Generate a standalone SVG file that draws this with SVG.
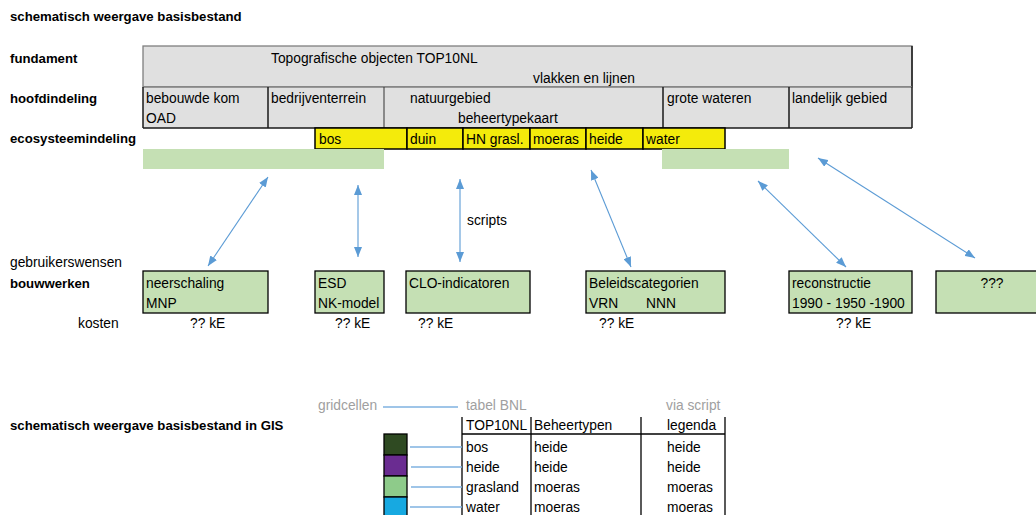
<svg xmlns="http://www.w3.org/2000/svg" width="1036" height="515" viewBox="0 0 1036 515">
<style>
text{font-family:"Liberation Sans",Arial,sans-serif;font-size:13.8px;fill:#000}
.b{font-weight:bold;font-size:13.2px}
.g{fill:#A0A0A0}
.gray{fill:#E0E0E0}
.yel{fill:#F4EB0B;stroke:#000;stroke-width:1.5}
.grn{fill:#C5E0B4}
.box{fill:#C5E0B4;stroke:#000;stroke-width:1.3}
.sep{stroke:#1a1a1a;stroke-width:1.5}
.arr{stroke:#5B9BD5;stroke-width:1.1;fill:none;marker-start:url(#ah);marker-end:url(#ah)}
.ln{stroke:#7FB2E0;stroke-width:1.3}
.tl{stroke:#000;stroke-width:1.3}
</style>
<defs>
<marker id="ah" viewBox="0 0 10 8" refX="10" refY="4" markerWidth="10" markerHeight="8" markerUnits="userSpaceOnUse" orient="auto-start-reverse">
<path d="M0,0 L10,4 L0,8 z" fill="#5B9BD5"/>
</marker>
</defs>
<rect width="1036" height="515" fill="#fff"/>

<g id="labels">
<text class="b" x="10" y="21">schematisch weergave basisbestand</text>
<text class="b" x="10" y="63">fundament</text>
<text class="b" x="10" y="103">hoofdindeling</text>
<text class="b" x="10" y="143">ecosysteemindeling</text>
<text x="10" y="267">gebruikerswensen</text>
<text class="b" x="10" y="288">bouwwerken</text>
<text x="78" y="328">kosten</text>
<text class="b" x="10" y="430">schematisch weergave basisbestand in GIS</text>
</g>

<g id="fundament">
<rect class="gray" x="143" y="46" width="769" height="41" stroke="#7F7F7F" stroke-width="1.3"/>
<line x1="912" y1="46" x2="912" y2="87" class="sep"/>
<text x="271" y="63">Topografische objecten TOP10NL</text>
<text x="533" y="83">vlakken en lijnen</text>
</g>

<g id="hoofdindeling">
<rect class="gray" x="143" y="87" width="769" height="41"/>
<line x1="143" y1="87" x2="912" y2="87" stroke="#7F7F7F" stroke-width="1.3"/>
<line x1="143" y1="87" x2="143" y2="128" class="sep"/>
<line x1="268" y1="87" x2="268" y2="128" class="sep"/>
<line x1="384" y1="87" x2="384" y2="129" stroke="#333" stroke-width="1"/>
<line x1="663" y1="87" x2="663" y2="128" class="sep"/>
<line x1="789" y1="87" x2="789" y2="128" class="sep"/>
<line x1="912" y1="87" x2="912" y2="128" class="sep"/>
<line x1="143" y1="128" x2="912" y2="128" class="sep"/>
<text x="146" y="103">bebouwde kom</text>
<text x="146" y="123">OAD</text>
<text x="271" y="103">bedrijventerrein</text>
<text x="410" y="103">natuurgebied</text>
<text x="458" y="123">beheertypekaart</text>
<text x="667" y="103">grote wateren</text>
<text x="792" y="103">landelijk gebied</text>
</g>

<g id="ecosysteem">
<rect class="yel" x="315" y="128" width="92" height="21"/>
<rect class="yel" x="407" y="128" width="56" height="21"/>
<rect class="yel" x="463" y="128" width="67" height="21"/>
<rect class="yel" x="530" y="128" width="56" height="21"/>
<rect class="yel" x="586" y="128" width="57" height="21"/>
<rect class="yel" x="643" y="128" width="82" height="21"/>
<text x="319" y="144">bos</text>
<text x="410" y="144">duin</text>
<text x="466" y="144">HN grasl.</text>
<text x="533" y="144">moeras</text>
<text x="589" y="144">heide</text>
<text x="646" y="144">water</text>
<rect class="grn" x="143" y="149" width="241" height="20"/>
<rect class="grn" x="662" y="149" width="127" height="20"/>
</g>

<g id="connectors">
<line class="arr" x1="268" y1="177" x2="208" y2="266"/>
<line class="arr" x1="358" y1="185" x2="358" y2="257"/>
<line class="arr" x1="460" y1="179" x2="460" y2="262"/>
<line class="arr" x1="591" y1="170" x2="631" y2="267"/>
<line class="arr" x1="758" y1="181" x2="846" y2="267"/>
<line class="arr" x1="818" y1="158" x2="975" y2="258"/>
<text x="467" y="225">scripts</text>
</g>

<g id="neerschaling">
<rect class="box" x="143" y="271" width="125" height="42"/>
<text x="146" y="288">neerschaling</text>
<text x="146" y="308">MNP</text>
<text x="190" y="328">?? kE</text>
</g>
<g id="esd">
<rect class="box" x="315" y="271" width="69" height="42"/>
<text x="318" y="288">ESD</text>
<text x="318" y="308">NK-model</text>
<text x="335" y="328">?? kE</text>
</g>
<g id="clo">
<rect class="box" x="406" y="271" width="124" height="42"/>
<text x="409" y="288">CLO-indicatoren</text>
<text x="418" y="328">?? kE</text>
</g>
<g id="beleid">
<rect class="box" x="586" y="271" width="139" height="42"/>
<text x="589" y="288">Beleidscategorien</text>
<text x="589" y="308">VRN</text>
<text x="646" y="308">NNN</text>
<text x="599" y="328">?? kE</text>
</g>
<g id="reconstructie">
<rect class="box" x="789" y="271" width="123" height="42"/>
<text x="792" y="288">reconstructie</text>
<text x="792" y="308">1990 - 1950 -1900</text>
<text x="836" y="328">?? kE</text>
</g>
<g id="onbekend">
<rect class="box" x="936" y="271" width="104" height="42"/>
<text x="992" y="288" text-anchor="middle">???</text>
</g>

<g id="gis">
<text class="g" x="318" y="410">gridcellen</text>
<line class="ln" x1="383" y1="407" x2="458" y2="407"/>
<text class="g" x="466" y="410">tabel BNL</text>
<text class="g" x="666" y="410">via script</text>
<line class="tl" x1="462" y1="417" x2="462" y2="515"/>
<line class="tl" x1="531" y1="417" x2="531" y2="515"/>
<line class="tl" x1="641" y1="417" x2="641" y2="515"/>
<line class="tl" x1="725" y1="417" x2="725" y2="515"/>
<line class="tl" x1="462" y1="434" x2="725" y2="434"/>
<text x="466" y="430">TOP10NL</text>
<text x="534" y="430">Beheertypen</text>
<text x="667" y="430">legenda</text>
<text x="466" y="452">bos</text><text x="534" y="452">heide</text><text x="667" y="452">heide</text>
<text x="466" y="472">heide</text><text x="534" y="472">heide</text><text x="667" y="472">heide</text>
<text x="466" y="492">grasland</text><text x="534" y="492">moeras</text><text x="667" y="492">moeras</text>
<text x="466" y="512">water</text><text x="534" y="512">moeras</text><text x="667" y="512">moeras</text>
<rect x="384" y="434" width="23" height="21" fill="#2F4A22" stroke="#000" stroke-width="1.3"/>
<rect x="384" y="455" width="23" height="21" fill="#6A2C91" stroke="#000" stroke-width="1.3"/>
<rect x="384" y="476" width="23" height="21" fill="#8ECB8A" stroke="#000" stroke-width="1.3"/>
<rect x="384" y="497" width="23" height="21" fill="#17A9E1" stroke="#000" stroke-width="1.3"/>
<line class="ln" x1="410" y1="447" x2="462" y2="447"/>
<line class="ln" x1="411" y1="467" x2="462" y2="467"/>
<line class="ln" x1="411" y1="487" x2="462" y2="487"/>
<line class="ln" x1="410" y1="507" x2="462" y2="507"/>
</g>
</svg>
